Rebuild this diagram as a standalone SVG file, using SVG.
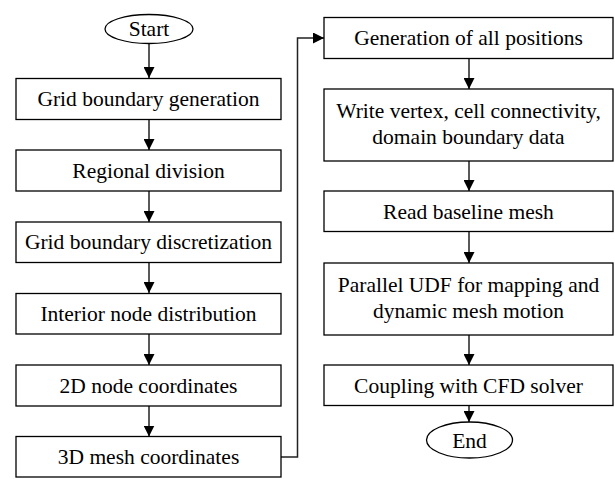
<svg xmlns="http://www.w3.org/2000/svg" width="615" height="479" viewBox="0 0 615 479" font-family="Liberation Serif, Times New Roman, serif" font-size="21.5">
<style>
.b{fill:#fff;stroke:#000;stroke-width:1.3}
.t{fill:#000;text-anchor:middle}
.c{fill:none;stroke:#222;stroke-width:1.5}
</style>
<defs>
<marker id="ah" markerUnits="userSpaceOnUse" markerWidth="11" markerHeight="11" refX="11" refY="5.5" orient="auto">
<path d="M0,0 L11,5.5 L0,11 z" fill="#000"/>
</marker>
</defs>
<rect width="615" height="479" fill="#fff"/>
<g id="connectors">
<line class="c" x1="149" y1="43.5" x2="149" y2="78" marker-end="url(#ah)"/>
<line class="c" x1="149" y1="119.5" x2="149" y2="150" marker-end="url(#ah)"/>
<line class="c" x1="149" y1="191" x2="149" y2="222" marker-end="url(#ah)"/>
<line class="c" x1="149" y1="262.5" x2="149" y2="293" marker-end="url(#ah)"/>
<line class="c" x1="149" y1="334" x2="149" y2="365" marker-end="url(#ah)"/>
<line class="c" x1="149" y1="406" x2="149" y2="436.5" marker-end="url(#ah)"/>
<polyline class="c" points="281,457 297.5,457 297.5,38 324,38" marker-end="url(#ah)"/>
<line class="c" x1="469" y1="58.5" x2="469" y2="89" marker-end="url(#ah)"/>
<line class="c" x1="469" y1="161" x2="469" y2="191" marker-end="url(#ah)"/>
<line class="c" x1="469" y1="231.5" x2="469" y2="263" marker-end="url(#ah)"/>
<line class="c" x1="469" y1="335" x2="469" y2="365" marker-end="url(#ah)"/>
<line class="c" x1="469" y1="405.5" x2="469" y2="422" marker-end="url(#ah)"/>
</g>
<g id="start"><ellipse class="b" cx="149" cy="29" rx="44" ry="14.5"/><text class="t" x="149" y="36">Start</text></g>
<g id="n1"><rect class="b" x="16" y="78.5" width="265" height="41"/><text class="t" x="148.5" y="106">Grid boundary generation</text></g>
<g id="n2"><rect class="b" x="16" y="150" width="265" height="41"/><text class="t" x="148.5" y="177.5">Regional division</text></g>
<g id="n3"><rect class="b" x="16" y="222" width="265" height="40.5"/><text class="t" x="148.5" y="249">Grid boundary discretization</text></g>
<g id="n4"><rect class="b" x="16" y="293.5" width="265" height="40.5"/><text class="t" x="148.5" y="321">Interior node distribution</text></g>
<g id="n5"><rect class="b" x="16" y="365" width="265" height="41"/><text class="t" x="148.5" y="392.5">2D node coordinates</text></g>
<g id="n6"><rect class="b" x="16" y="436.5" width="265" height="40.5"/><text class="t" x="148.5" y="464">3D mesh coordinates</text></g>
<g id="n7"><rect class="b" x="324" y="17.5" width="289" height="41"/><text class="t" x="468.5" y="45">Generation of all positions</text></g>
<g id="n8"><rect class="b" x="324" y="89" width="289" height="72"/><text class="t" x="468.5" y="118">Write vertex, cell connectivity,</text><text class="t" x="468.5" y="144">domain boundary data</text></g>
<g id="n9"><rect class="b" x="324" y="191" width="289" height="40.5"/><text class="t" x="468.5" y="218.5">Read baseline mesh</text></g>
<g id="n10"><rect class="b" x="324" y="263" width="289" height="72"/><text class="t" x="468.5" y="292">Parallel UDF for mapping and</text><text class="t" x="468.5" y="318">dynamic mesh motion</text></g>
<g id="n11"><rect class="b" x="324" y="365" width="289" height="40.5"/><text class="t" x="468.5" y="392.5">Coupling with CFD solver</text></g>
<g id="end"><ellipse class="b" cx="469.5" cy="440" rx="43" ry="18"/><text class="t" x="469.5" y="447.5">End</text></g>
</svg>
